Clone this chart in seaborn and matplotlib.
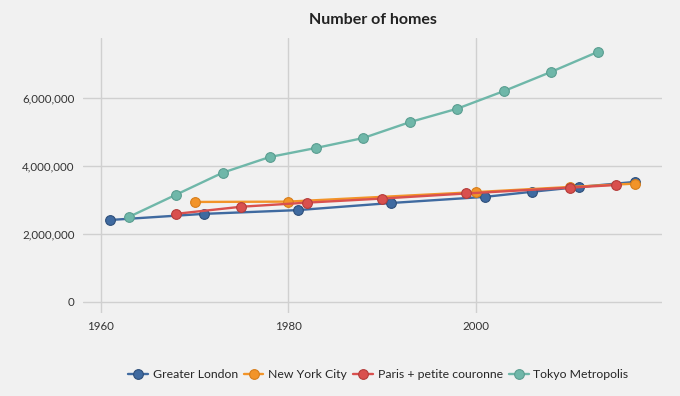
import pandas as pd
import seaborn as sns
import matplotlib.pyplot as plt
from matplotlib.ticker import FuncFormatter

# Datos
london_years = [1961, 1971, 1981, 1991, 2001, 2006, 2011, 2017]
london_homes = [2.41e6, 2.59e6, 2.70e6, 2.91e6, 3.09e6, 3.24e6, 3.38e6, 3.53e6]

nyc_years = [1970, 1980, 2000, 2010, 2017]
nyc_homes = [2.94e6, 2.95e6, 3.23e6, 3.38e6, 3.48e6]

paris_years = [1968, 1975, 1982, 1990, 1999, 2010, 2015]
paris_homes = [2.59e6, 2.80e6, 2.92e6, 3.04e6, 3.19e6, 3.36e6, 3.44e6]

tokyo_years = [1963, 1968, 1973, 1978, 1983, 1988, 1993, 1998, 2003, 2008, 2013]
tokyo_homes = [2.50e6, 3.15e6, 3.80e6, 4.26e6, 4.53e6, 4.82e6, 5.29e6, 5.68e6,
               6.20e6, 6.76e6, 7.35e6]

cities = ["Greater London", "New York City", "Paris + petite couronne", "Tokyo Metropolis"]
colors = ["#3f6aa0", "#f29429", "#d9504e", "#6fb7a9"]
edges = ["#2e4f7a", "#d77d1a", "#b43c3a", "#5a9d90"]

frames = []
for city, yrs, vals in zip(cities,
                           [london_years, nyc_years, paris_years, tokyo_years],
                           [london_homes, nyc_homes, paris_homes, tokyo_homes]):
    frames.append(pd.DataFrame({"year": yrs, "homes": vals, "city": city}))
df = pd.concat(frames, ignore_index=True)

bg = "#f1f1f1"
sns.set_style("whitegrid")
plt.rcParams["font.family"] = ["Lato", "DejaVu Sans"]

fig, ax = plt.subplots(figsize=(6.8, 3.96), dpi=100)
fig.patch.set_facecolor(bg)
ax.set_facecolor(bg)
fig.subplots_adjust(left=0.122, right=0.974, top=0.904, bottom=0.21)

for city, c, ec in zip(cities, colors, edges):
    sns.lineplot(data=df[df["city"] == city], x="year", y="homes", ax=ax,
                 color=c, marker="o", markersize=7, linewidth=1.7,
                 markeredgecolor=ec, markeredgewidth=0.8, label=city)

ax.set_xlim(1958.1, 2019.9)
ax.set_ylim(-0.32e6, 7.76e6)
ax.set_xticks([1960, 1980, 2000])
ax.set_yticks([0, 2e6, 4e6, 6e6])
ax.yaxis.set_major_formatter(FuncFormatter(lambda v, p: f"{int(v):,}"))
ax.grid(True, color="#d0d0d0", linewidth=1)
for s in ax.spines.values():
    s.set_visible(False)
ax.tick_params(length=0, labelsize=8.3, colors="#333333", pad=6)
ax.set_xlabel("")
ax.set_ylabel("")
ax.set_title("Number of homes", fontsize=11.5, fontweight="bold", color="#222222", pad=10)

ax.legend(loc="upper center", bbox_to_anchor=(0.51, -0.165), ncol=4, frameon=False,
          fontsize=8.8, handlelength=1.6, handletextpad=0.4, columnspacing=0.5)

fig.savefig("out.png", dpi=100, facecolor=bg)
